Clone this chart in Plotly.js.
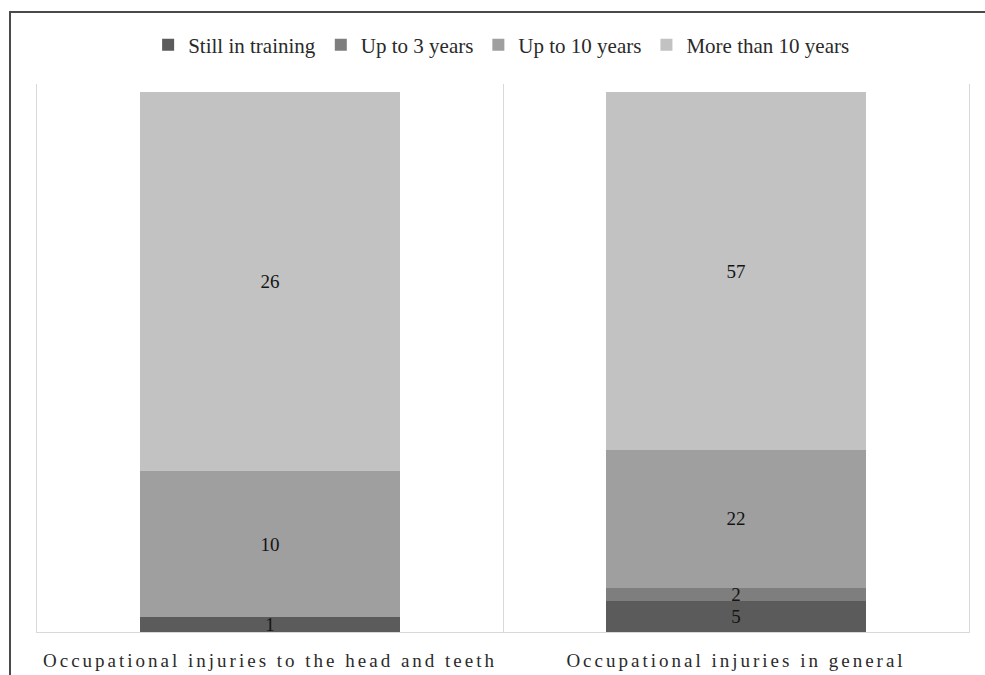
<!DOCTYPE html>
<html>
<head>
<meta charset="utf-8">
<script src="https://cdn.plot.ly/plotly-3.0.1.min.js"></script>
<style>
  html, body { margin: 0; padding: 0; background: #ffffff; }
  #wrap { position: relative; width: 985px; height: 675px; overflow: hidden; }
  #chart { position: absolute; left: 0; top: 0; width: 985px; height: 675px; }
  #frame {
    position: absolute; left: 9px; top: 11px; width: 990px; height: 680px;
    border-left: 2px solid #4a4a4a; border-top: 2px solid #4a4a4a;
    pointer-events: none; z-index: 5;
  }
  /* spaced-out category labels */
  #chart .xtick text { letter-spacing: 3px; }
</style>
</head>
<body>
<div id="wrap">
  <div id="frame"></div>
  <div id="chart"></div>
</div>
<script>
// Injury groups on the x axis
const categories = [
  "Occupational injuries to the head and teeth",
  "Occupational injuries in general"
];

// Professional experience groups (stack order, bottom to top)
const seriesNames = ["Still in training", "Up to 3 years", "Up to 10 years", "More than 10 years"];
const stillInTraining = [1, 5];
const upTo3Years = [0, 2];
const upTo10Years = [10, 22];
const moreThan10Years = [26, 57];

const seriesValues = [stillInTraining, upTo3Years, upTo10Years, moreThan10Years];
const seriesColors = ["#5b5b5b", "#7e7e7e", "#9f9f9f", "#c2c2c2"];

const serif = "Liberation Serif, Times New Roman, serif";

const traces = seriesValues.map((vals, i) => ({
  type: "bar",
  name: seriesNames[i],
  x: categories,
  y: vals,
  text: vals.map(v => (v ? String(v) : "")),
  texttemplate: "%{text}",
  textposition: "inside",
  insidetextanchor: "middle",
  textangle: 0,
  constraintext: "none",
  textfont: { family: serif, size: 19, color: "#141414" },
  marker: { color: seriesColors[i], line: { width: 0 } },
  width: 0.558,
  hoverinfo: "skip"
}));

const layout = {
  width: 985,
  height: 675,
  margin: { l: 37, r: 16, t: 84, b: 43, pad: 0 },
  paper_bgcolor: "rgba(0,0,0,0)",
  plot_bgcolor: "#ffffff",
  barmode: "stack",
  barnorm: "percent",
  showlegend: true,
  legend: {
    orientation: "h",
    x: 0.498, xanchor: "center",
    y: 1.071, yanchor: "middle",
    font: { family: serif, size: 21, color: "#2a2a2a" },
    traceorder: "normal",
    bgcolor: "rgba(0,0,0,0)"
  },
  xaxis: {
    type: "category",
    range: [-0.5, 1.5],
    tickson: "boundaries",
    showgrid: true,
    gridcolor: "#d9d9d9",
    gridwidth: 1,
    showline: true,
    linecolor: "#d9d9d9",
    linewidth: 1,
    ticks: "",
    ticklabelstandoff: 11,
    tickfont: { family: serif, size: 19, color: "#2a2a2a" },
    zeroline: false,
    fixedrange: true
  },
  yaxis: {
    range: [0, 101.5],
    showgrid: false,
    zeroline: false,
    showticklabels: false,
    ticks: "",
    showline: true,
    mirror: true,
    linecolor: "#d9d9d9",
    linewidth: 1,
    fixedrange: true
  }
};

Plotly.newPlot("chart", traces, layout, { staticPlot: true, displayModeBar: false });
</script>
</body>
</html>
